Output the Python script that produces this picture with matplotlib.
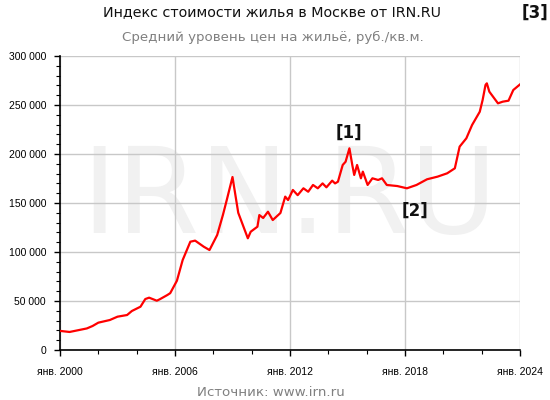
import numpy as np
import matplotlib.pyplot as plt
from matplotlib.ticker import MultipleLocator, FuncFormatter

# Индекс IRN.RU, руб./кв.м.
years = [2000.0, 2000.5, 2001.0, 2001.4, 2001.7, 2002.0, 2002.6, 2003.0, 2003.5, 2003.75,
         2004.2, 2004.45, 2004.65, 2005.05, 2005.2, 2005.6, 2005.75, 2006.1, 2006.4, 2006.8,
         2007.05, 2007.5, 2007.8, 2008.2, 2008.5, 2008.7, 2009.0, 2009.3, 2009.8, 2009.95,
         2010.3, 2010.4, 2010.6, 2010.85, 2011.1, 2011.5, 2011.75, 2011.9, 2012.15, 2012.4,
         2012.7, 2012.95, 2013.2, 2013.45, 2013.7, 2013.9, 2014.2, 2014.35, 2014.5, 2014.75,
         2014.9, 2015.1, 2015.25, 2015.35, 2015.5, 2015.7, 2015.8, 2016.05, 2016.3, 2016.6,
         2016.8, 2017.05, 2017.6, 2018.1, 2018.6, 2019.15, 2019.7, 2020.2, 2020.6, 2020.85,
         2021.2, 2021.5, 2021.9, 2022.05, 2022.2, 2022.27, 2022.4, 2022.85, 2023.1, 2023.4,
         2023.65, 2024.0]
prices = [19500, 18400, 20400, 22000, 24500, 27900, 30600, 34000, 35700, 39800,
          44200, 52000, 53400, 50300, 51700, 56100, 58000, 70700, 91800, 110500,
          111600, 105400, 102000, 117300, 137800, 153000, 176500, 140000, 114000, 120700,
          125800, 137700, 134700, 141100, 132600, 139800, 156500, 153000, 163300, 158000,
          165000, 161500, 168400, 165000, 170000, 166000, 172800, 170000, 171700, 188800,
          192100, 205800, 188800, 178600, 188800, 175200, 182000, 168400, 175200, 173500,
          175200, 168400, 167300, 165000, 168400, 174200, 176900, 180300, 185400, 207500,
          216000, 229600, 243100, 255100, 270400, 272100, 263600, 251700, 253400, 254400,
          265300, 271000]

x_ticks = [2000, 2006, 2012, 2018, 2024]
x_labels = ["янв. 2000", "янв. 2006", "янв. 2012", "янв. 2018", "янв. 2024"]

fig = plt.figure(figsize=(5.5, 4), dpi=100)
ax = fig.add_axes([60/550, 50/400, 460/550, 294/400])

# водяной знак (за линией и сеткой)
ax.text(289/550, 1 - 200/400, "IRN.RU", fontsize=86, color="#f1f1f1", family="DejaVu Sans",
        ha="center", va="center", transform=fig.transFigure, zorder=0, clip_on=False)

ax.plot(years, prices, color="#ff0000", linewidth=1.6, zorder=3)

ax.set_xlim(2000, 2024)
ax.set_ylim(0, 300000)
ax.set_xticks(x_ticks)
ax.set_xticklabels(x_labels, family="Liberation Sans", fontsize=7.5)
ax.xaxis.set_minor_locator(MultipleLocator(2))
ax.yaxis.set_major_locator(MultipleLocator(50000))
ax.yaxis.set_minor_locator(MultipleLocator(10000))
ax.yaxis.set_major_formatter(FuncFormatter(lambda v, p: f"{int(v):,}".replace(",", " ")))
for lab in ax.get_yticklabels():
    lab.set_family("Liberation Sans")
    lab.set_fontsize(7.5)
ax.tick_params(axis="both", which="major", length=4, width=1, color="black")
ax.tick_params(axis="both", which="minor", length=3, width=0.8, color="black")
ax.tick_params(axis="y", pad=6)
ax.tick_params(axis="x", pad=8)
ax.grid(True, which="major", color="#c8c8c8", linewidth=1)
for s in ["top", "right"]:
    ax.spines[s].set_visible(False)
ax.spines["left"].set_linewidth(1.2)
ax.spines["bottom"].set_linewidth(1.2)

fig.text(272/550, 1 - 12/400, "Индекс стоимости жилья в Москве от IRN.RU",
         ha="center", va="center", fontsize=10.3, color="#111111", family="DejaVu Sans")
fig.text(273/550, 1 - 37/400, "Средний уровень цен на жильё, руб./кв.м.",
         ha="center", va="center", fontsize=9.6, color="#808080", family="DejaVu Sans")
fig.text(271/550, 1 - 392/400, "Источник: www.irn.ru",
         ha="center", va="center", fontsize=9.6, color="#808080", family="DejaVu Sans")

ax.text(2015.1, 222000, "[1]", fontsize=12, fontweight="bold", color="#111111",
        ha="center", va="center", zorder=4)
ax.text(2018.5, 142000, "[2]", fontsize=12, fontweight="bold", color="#111111",
        ha="center", va="center", zorder=4)
fig.text(535/550, 1 - 13/400, "[3]", fontsize=12, fontweight="bold", color="#111111",
         ha="center", va="center")

fig.savefig("out.png", dpi=100)
